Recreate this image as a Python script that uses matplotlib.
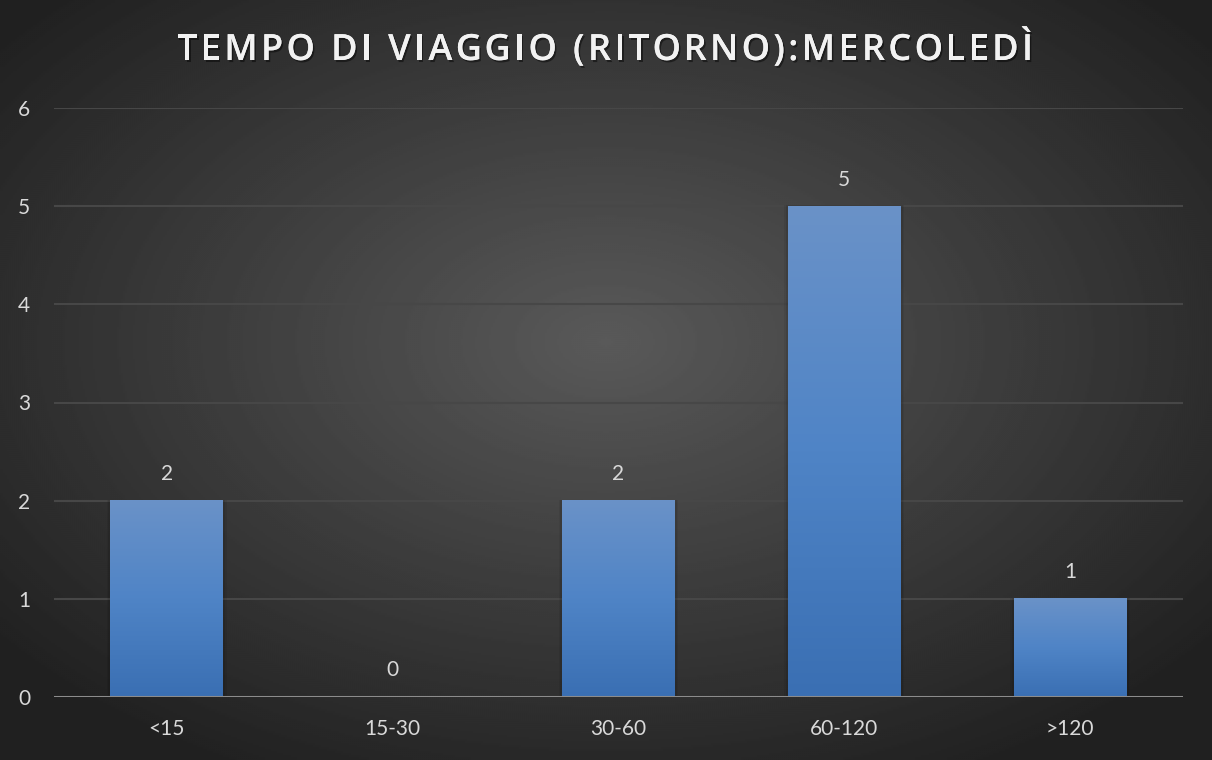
import numpy as np
import matplotlib

matplotlib.use("Agg")
import matplotlib.pyplot as plt
import matplotlib.patheffects as pe
from matplotlib.colors import LinearSegmentedColormap
from matplotlib.font_manager import FontProperties

categories = ["<15", "15-30", "30-60", "60-120", ">120"]
values = [2, 0, 2, 5, 1]
yticks = [0, 1, 2, 3, 4, 5, 6]
title = "TEMPO DI VIAGGIO (RITORNO):MERCOLEDÌ"

plt.rcParams["font.family"] = ["Lato", "DejaVu Sans"]

fig = plt.figure(figsize=(12.12, 7.6), dpi=100)

# radial gradient background
bg = fig.add_axes([0, 0, 1, 1])
bg.set_axis_off()
yy, xx = np.mgrid[0:1:380j, 0:1:606j]
r = np.sqrt(((xx - 0.5) / 0.75) ** 2 + ((yy - 0.45) / 0.75) ** 2)
shade = 0.35 - 0.22 * np.clip(r / 0.85, 0, 1)
bg.imshow(shade, cmap="gray", vmin=0, vmax=1, extent=[0, 1, 0, 1],
          aspect="auto", interpolation="bilinear")
bg.set_xlim(0, 1)
bg.set_ylim(0, 1)

ax = fig.add_axes([54 / 1212, 63 / 760, 1129 / 1212, 589 / 760])
ax.patch.set_alpha(0)
x = np.arange(len(categories))
ax.set_xlim(-0.5, len(categories) - 0.5)
ax.set_ylim(0, 6)

for y in yticks[1:]:
    ax.axhline(y, color="#474747", lw=1.5, zorder=1)

# gradient bars
grad = np.linspace(0, 1, 256).reshape(-1, 1)
cmap = LinearSegmentedColormap.from_list("bar", ["#3a6fb3", "#4f84c6", "#6a92c8"])
bars = ax.bar(x, values, width=0.5, color="none", zorder=3)
for b, v in zip(bars, values):
    if v <= 0:
        continue
    x0, w = b.get_x(), b.get_width()
    # soft shadow
    for k, a in [(0.03, 0.06), (0.018, 0.08)]:
        ax.bar(x0 + w / 2, v + 0.01, width=w + k, color="black", alpha=a,
               zorder=2)
    ax.imshow(grad, cmap=cmap, extent=[x0, x0 + w, 0, v], aspect="auto",
              origin="lower", zorder=3)

for xi, v in zip(x, values):
    ax.annotate(str(v), (xi, v), xytext=(0, 12), textcoords="offset points",
                ha="center", va="bottom", color="#d9d9d9", fontsize=15)

ax.axhline(0, color="#8c8c8c", lw=2.2, zorder=4)

ax.set_xticks(x)
ax.set_xticklabels(categories)
ax.set_yticks(yticks)
ax.tick_params(axis="both", length=0, colors="#d9d9d9", labelsize=15)
ax.tick_params(axis="x", pad=16)
ax.tick_params(axis="y", pad=17)
for s in ax.spines.values():
    s.set_visible(False)
ax.set_xlim(-0.5, len(categories) - 0.5)
ax.set_ylim(0, 6)

# title with letter spacing, placed character by character
fp = FontProperties(family=["Open Sans", "DejaVu Sans"], weight=600, size=26)
renderer = fig.canvas.get_renderer()


def _w(s):
    if not s:
        return 0.0
    return renderer.get_text_width_height_descent(s, fp, ismath=False)[0]


left_px, right_px = 177, 1033
natural = _w(title)
track = (right_px - left_px - natural) / (len(title) - 1)
ty = 1 - 51 / 760
for i, ch in enumerate(title):
    px = left_px + _w(title[:i]) + i * track
    fig.text(px / 1212, ty, ch, ha="left", va="center", fontproperties=fp,
             color="#f2f2f2",
             path_effects=[pe.withSimplePatchShadow(offset=(1.2, -1.5),
                                                    shadow_rgbFace="black",
                                                    alpha=0.45),
                           pe.Normal()])

fig.savefig("out.png", dpi=100, facecolor="#2b2b2b")
